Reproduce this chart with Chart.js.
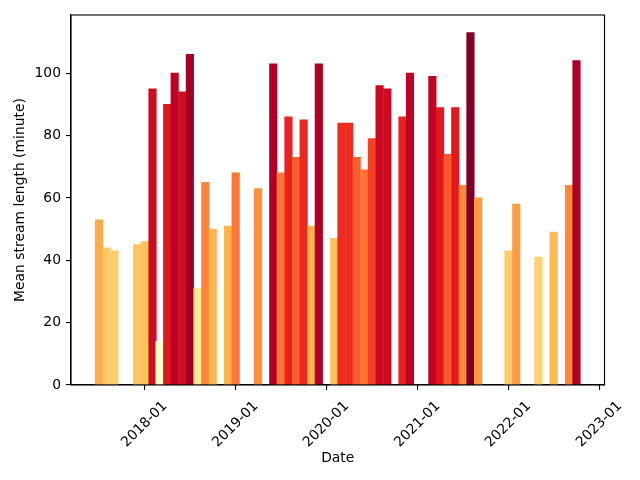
<!DOCTYPE html>
<html>
<head>
<meta charset="utf-8">
<script src="https://cdn.jsdelivr.net/npm/chart.js@4/dist/chart.umd.min.js"></script>
<style>
html,body{margin:0;padding:0;background:#fff;}
#c{display:block;}
</style>
</head>
<body>
<canvas id="c" width="640" height="480"></canvas>
<script>
// ---- data ----
const months = [
  "2017-06","2017-07","2017-08","2017-11","2017-12",
  "2018-01","2018-02","2018-03","2018-04","2018-05","2018-06","2018-07","2018-08","2018-09","2018-11","2018-12",
  "2019-03","2019-05","2019-06","2019-07","2019-08","2019-09","2019-10","2019-11",
  "2020-01","2020-02","2020-03","2020-04","2020-05","2020-06","2020-07","2020-08","2020-10","2020-11",
  "2021-02","2021-03","2021-04","2021-05","2021-06","2021-07","2021-08","2021-12",
  "2022-01","2022-04","2022-06","2022-08","2022-09"
];
const meanLength = [
  53,44,43,45,46,
  95,14,90,100,94,106,31,65,50,51,68,
  63,103,68,86,73,85,51,103,
  47,84,84,73,69,79,96,95,86,100,
  99,89,74,89,64,113,60,43,
  58,41,49,64,104
];
const xTickLabels = ["2018-01","2019-01","2020-01","2021-01","2022-01","2023-01"];
const yTickValues = [0,20,40,60,80,100];

// ---- helpers ----
const DAY = 86400000;
const EPOCH = Date.UTC(2018,0,1);
function monthEndDay(ym){ const [y,m]=ym.split('-').map(Number); return (Date.UTC(y,m,0)-EPOCH)/DAY; }
function monthStartDay(ym){ const [y,m]=ym.split('-').map(Number); return (Date.UTC(y,m-1,1)-EPOCH)/DAY; }

const ylorrd = [[255,255,204],[255,237,160],[254,217,118],[254,178,76],[253,141,60],[252,78,42],[227,26,28],[189,0,38],[128,0,38]];
function cmap(t){
  t = Math.max(0,Math.min(1,t));
  const f = t*(ylorrd.length-1); const i = Math.min(Math.floor(f), ylorrd.length-2); const r = f-i;
  const a=ylorrd[i], b=ylorrd[i+1];
  return 'rgb('+a.map((v,k)=>Math.round(v+(b[k]-v)*r)).join(',')+')';
}
const vmin = Math.min(...meanLength), vmax = Math.max(...meanLength);
const barColors = meanLength.map(v => cmap((v-vmin)/(vmax-vmin)));

const points = months.map((m,i)=>({x: monthEndDay(m), y: meanLength[i]}));
const BAR_DAYS = 30;
const lo = Math.min(...points.map(p=>p.x)) - BAR_DAYS/2;
const hi = Math.max(...points.map(p=>p.x)) + BAR_DAYS/2;
const xPad = 0.05*(hi-lo);
const yMax = vmax*1.05;

const FONT = {family: "'DejaVu Sans', sans-serif", size: 13.9};

const boxPlugin = {
  id: 'box',
  afterDraw(chart){
    const {ctx, chartArea:a} = chart;
    ctx.save();
    ctx.strokeStyle = '#000';
    ctx.lineWidth = 1.1;
    ctx.strokeRect(a.left, a.top, a.right-a.left, a.bottom-a.top);
    ctx.restore();
  }
};

new Chart(document.getElementById('c'), {
  type: 'bar',
  data: {
    datasets: [{
      data: points,
      backgroundColor: barColors,
      borderWidth: 0,
      barThickness: 7.5
    }]
  },
  options: {
    responsive: false,
    animation: false,
    layout: {padding: {top: 15, right: 35.5, left: 0, bottom: 0}},
    plugins: {legend: {display: false}, tooltip: {enabled: false}},
    scales: {
      x: {
        type: 'linear',
        offset: false,
        min: lo - xPad,
        max: hi + xPad,
        afterBuildTicks: axis => { axis.ticks = xTickLabels.map(l => ({value: monthStartDay(l)})); },
        afterFit: s => { s.height = 95; },
        grid: {drawOnChartArea: false, drawTicks: true, tickLength: 5, color: '#000', lineWidth: 1.1, offset: false},
        border: {display: true, color: '#000', width: 1.1},
        ticks: {
          autoSkip: false, maxRotation: 45, minRotation: 45, padding: 8, labelOffset: 20,
          color: '#000', font: FONT,
          callback: v => { const i = xTickLabels.findIndex(l => monthStartDay(l) === v); return i >= 0 ? xTickLabels[i] : ''; }
        },
        title: {display: true, text: 'Date', color: '#000', font: FONT, padding: {top: 0, bottom: 13.5}}
      },
      y: {
        type: 'linear',
        min: 0,
        max: yMax,
        afterBuildTicks: axis => { axis.ticks = yTickValues.map(v => ({value: v})); },
        afterFit: s => { s.width = 71; },
        grid: {drawOnChartArea: false, drawTicks: true, tickLength: 5, color: '#000', lineWidth: 1.1},
        border: {display: true, color: '#000', width: 1.1},
        ticks: {padding: 5, color: '#000', font: FONT},
        title: {display: true, text: 'Mean stream length (minute)', color: '#000', font: FONT, padding: {top: 11.7, bottom: 0}}
      }
    }
  },
  plugins: [boxPlugin]
});
</script>
</body>
</html>
